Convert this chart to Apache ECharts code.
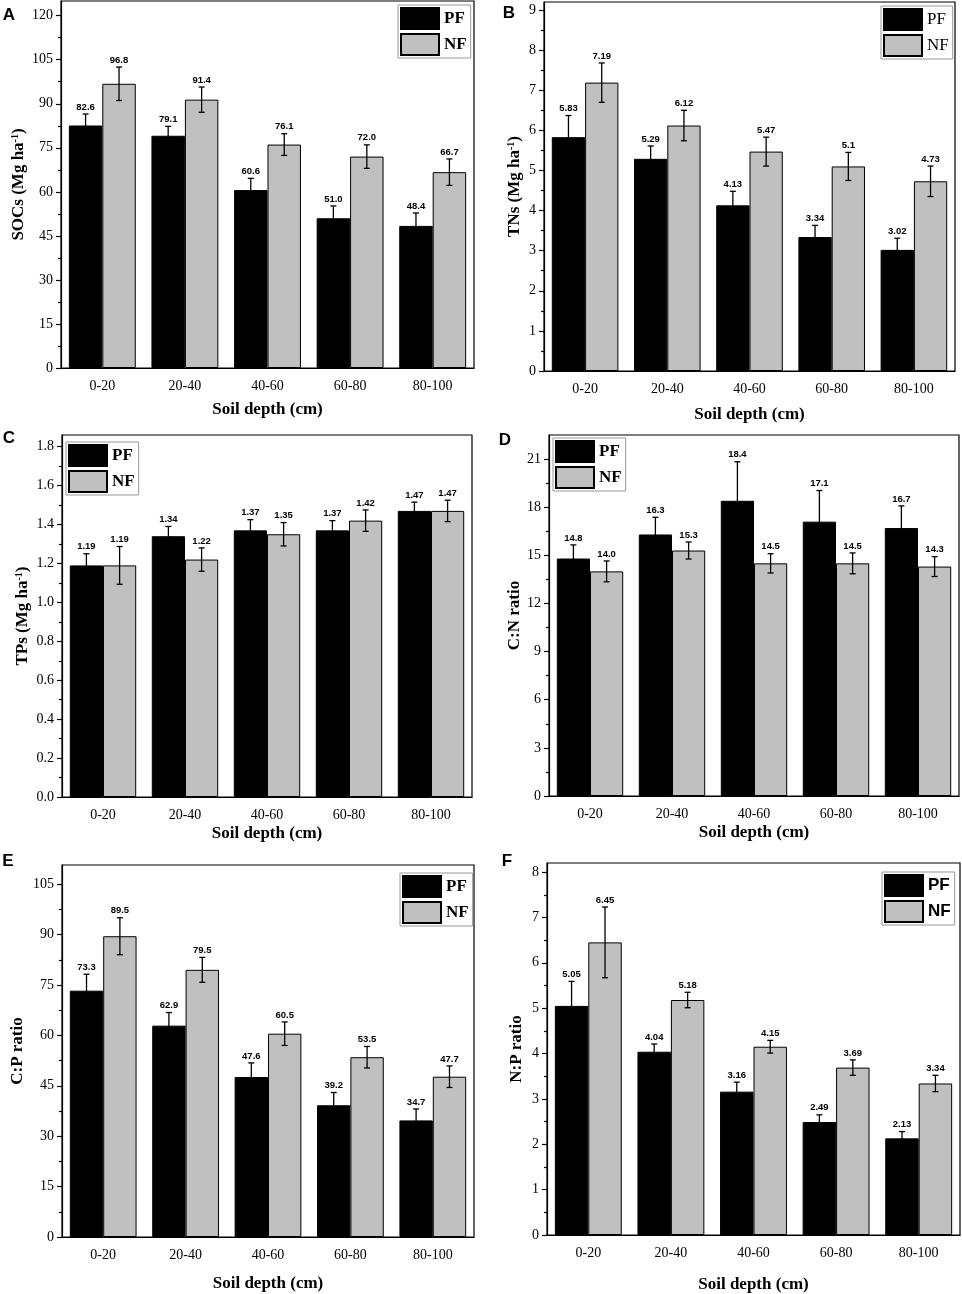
<!DOCTYPE html>
<html>
<head>
<meta charset="utf-8">
<script src="https://cdn.jsdelivr.net/npm/echarts@6.0.0/dist/echarts.min.js"></script>
<style>
html, body { margin: 0; padding: 0; background: #fff; }
#main { width: 962px; height: 1294px; }
</style>
</head>
<body>
<div id="main"></div>
<script>
// soil depth classes
var depths = ['0-20', '20-40', '40-60', '60-80', '80-100'];

// A: SOC stock
var socPF = [82.6, 79.1, 60.6, 51.0, 48.4];
var socNF = [96.8, 91.4, 76.1, 72.0, 66.7];
var socPFErr = [3.9, 3.2, 4.0, 4.2, 4.4];
var socNFErr = [5.7, 4.3, 3.7, 4.0, 4.5];
var socTicks = [0, 15, 30, 45, 60, 75, 90, 105, 120];

// B: TN stock
var tnPF = [5.83, 5.29, 4.13, 3.34, 3.02];
var tnNF = [7.19, 6.12, 5.47, 5.1, 4.73];
var tnPFErr = [0.54, 0.32, 0.35, 0.29, 0.29];
var tnNFErr = [0.49, 0.38, 0.36, 0.35, 0.38];
var tnTicks = [0, 1, 2, 3, 4, 5, 6, 7, 8, 9];

// C: TP stock
var tpPF = [1.19, 1.34, 1.37, 1.37, 1.47];
var tpNF = [1.19, 1.22, 1.35, 1.42, 1.47];
var tpPFErr = [0.06, 0.05, 0.055, 0.05, 0.045];
var tpNFErr = [0.097, 0.06, 0.06, 0.055, 0.055];
var tpTicks = [0, 0.2, 0.4, 0.6, 0.8, 1.0, 1.2, 1.4, 1.6, 1.8];

// D: C:N ratio
var cnPF = [14.8, 16.3, 18.4, 17.1, 16.7];
var cnNF = [14.0, 15.3, 14.5, 14.5, 14.3];
var cnPFErr = [0.85, 1.07, 2.43, 1.94, 1.38];
var cnNFErr = [0.65, 0.53, 0.6, 0.65, 0.62];
var cnTicks = [0, 3, 6, 9, 12, 15, 18, 21];

// E: C:P ratio
var cpPF = [73.3, 62.9, 47.6, 39.2, 34.7];
var cpNF = [89.5, 79.5, 60.5, 53.5, 47.7];
var cpPFErr = [4.9, 3.9, 4.2, 3.8, 3.4];
var cpNFErr = [5.5, 3.7, 3.5, 3.2, 3.2];
var cpTicks = [0, 15, 30, 45, 60, 75, 90, 105];

// F: N:P ratio
var npPF = [5.05, 4.04, 3.16, 2.49, 2.13];
var npNF = [6.45, 5.18, 4.15, 3.69, 3.34];
var npPFErr = [0.54, 0.17, 0.21, 0.16, 0.15];
var npNFErr = [0.78, 0.17, 0.14, 0.17, 0.18];
var npTicks = [0, 1, 2, 3, 4, 5, 6, 7, 8];

var SERIF = '"Liberation Serif", "Times New Roman", serif';
var SANS = '"Liberation Sans", Arial, sans-serif';
var GAP = 0.19; // barCategoryGap

// layout of the six panels
var panels = [
    {key: 'A', pf: socPF, nf: socNF, pfErr: socPFErr, nfErr: socNFErr, ticks: socTicks, max: 125, dec: 1, tickDec: 0,
     yName: 'SOCs (Mg ha{sup|-1})', box: [61, 1, 413, 367], legend: [398, 5], legendFont: SERIF, legendWeight: 'bold',
     letter: [9, 15], yGap: 34, xGap: 33},
    {key: 'B', pf: tnPF, nf: tnNF, pfErr: tnPFErr, nfErr: tnNFErr, ticks: tnTicks, max: 9.2, dec: null, tickDec: 0,
     yName: 'TNs (Mg ha{sup|-1})', box: [544, 2, 411, 369], legend: [881, 6], legendFont: SERIF, legendWeight: 'normal',
     letter: [509, 13], yGap: 21, xGap: 35},
    {key: 'C', pf: tpPF, nf: tpNF, pfErr: tpPFErr, nfErr: tpNFErr, ticks: tpTicks, max: 1.86, dec: 2, tickDec: 1,
     yName: 'TPs (Mg ha{sup|-1})', box: [62, 435, 410, 362], legend: [66, 442], legendFont: SERIF, legendWeight: 'bold',
     letter: [9, 438], yGap: 31, xGap: 28},
    {key: 'D', pf: cnPF, nf: cnNF, pfErr: cnPFErr, nfErr: cnNFErr, ticks: cnTicks, max: 22.5, dec: 1, tickDec: 0,
     yName: 'C:N ratio', box: [549, 435, 410, 361], legend: [553, 438], legendFont: SERIF, legendWeight: 'bold',
     letter: [505, 440], yGap: 26, xGap: 28},
    {key: 'E', pf: cpPF, nf: cpNF, pfErr: cpPFErr, nfErr: cpNFErr, ticks: cpTicks, max: 110.7, dec: 1, tickDec: 0,
     yName: 'C:P ratio', box: [62, 865, 412, 372], legend: [400, 873], legendFont: SERIF, legendWeight: 'bold',
     letter: [8, 861], yGap: 36, xGap: 38},
    {key: 'F', pf: npPF, nf: npNF, pfErr: npPFErr, nfErr: npNFErr, ticks: npTicks, max: 8.2, dec: 2, tickDec: 0,
     yName: 'N:P ratio', box: [547, 863, 413, 372], legend: [882, 872], legendFont: SANS, legendWeight: 'bold',
     letter: [507, 861], yGap: 22, xGap: 41}
];

function fmt(v, dec) {
    return dec === null ? String(v) : v.toFixed(dec);
}

// error bar + value label drawn over each bar
function errorBar(side, vals, dec) {
    return function (params, api) {
        var idx = api.value(0), val = api.value(1), err = api.value(2);
        var band = api.size([1, 0])[0];
        var bw = band * (1 - GAP) / 2;
        var x = api.coord([idx, val])[0] + side * bw / 2;
        var yTop = api.coord([idx, val + err])[1];
        var yBot = api.coord([idx, val - err])[1];
        var st = {stroke: '#000', lineWidth: 1.3};
        var cap = 3;
        return {
            type: 'group',
            children: [
                {type: 'line', shape: {x1: x, y1: yTop, x2: x, y2: yBot}, style: st},
                {type: 'line', shape: {x1: x - cap, y1: yTop, x2: x + cap, y2: yTop}, style: st},
                {type: 'line', shape: {x1: x - cap, y1: yBot, x2: x + cap, y2: yBot}, style: st},
                {type: 'text', x: x, y: yTop - 2, style: {
                    text: fmt(vals[params.dataIndex], dec), fill: '#000',
                    font: 'bold 9.5px ' + SANS, align: 'center', verticalAlign: 'bottom'}}
            ]
        };
    };
}

var option = {
    backgroundColor: '#fff',
    animation: false,
    grid: [], xAxis: [], yAxis: [], legend: [], series: [], graphic: []
};

panels.forEach(function (p, i) {
    var axisLine = {show: true, lineStyle: {color: '#000', width: 1.2}};
    var minor = [];
    var step = p.ticks[1] - p.ticks[0];
    for (var k = 1; k < p.ticks.length + 1; k++) {
        var m = p.ticks[0] + (k - 0.5) * step;
        if (m < p.max - 0.01 * step) minor.push(+m.toFixed(4));
    }

    option.grid.push({
        left: p.box[0], top: p.box[1], width: p.box[2], height: p.box[3],
        show: true, borderColor: '#000', borderWidth: 1.2
    });

    option.xAxis.push({
        type: 'category', gridIndex: i, position: 'bottom', data: depths,
        axisLine: axisLine,
        axisTick: {alignWithLabel: true, length: 6, lineStyle: {color: '#000', width: 1.2}},
        axisLabel: {color: '#000', fontFamily: SERIF, fontSize: 14, margin: 11},
        name: 'Soil depth (cm)', nameLocation: 'middle', nameGap: p.xGap,
        nameTextStyle: {color: '#000', fontFamily: SERIF, fontWeight: 'bold', fontSize: 17}
    });
    option.xAxis.push({
        type: 'category', gridIndex: i, position: 'bottom', data: depths,
        axisLine: {show: false}, axisLabel: {show: false},
        axisTick: {alignWithLabel: false, length: 3, lineStyle: {color: '#000', width: 1.2}}
    });

    option.yAxis.push({
        type: 'value', gridIndex: i, position: 'left', min: 0, max: p.max,
        axisLine: axisLine, splitLine: {show: false},
        axisTick: {show: true, length: 5, customValues: p.ticks, lineStyle: {color: '#000', width: 1.2}},
        axisLabel: {customValues: p.ticks, color: '#000', fontFamily: SERIF, fontSize: 14, margin: 8,
            formatter: function (v) { return v.toFixed(p.tickDec); }},
        name: p.yName, nameLocation: 'middle', nameGap: p.yGap,
        nameTextStyle: {color: '#000', fontFamily: SERIF, fontWeight: 'bold', fontSize: 17,
            rich: {sup: {fontFamily: SERIF, fontWeight: 'bold', fontSize: 10, verticalAlign: 'top', padding: [0, 0, 6, 0]}}}
    });
    option.yAxis.push({
        type: 'value', gridIndex: i, position: 'left', min: 0, max: p.max,
        axisLine: {show: false}, splitLine: {show: false}, axisLabel: {show: false},
        axisTick: {show: true, length: 3, customValues: minor, lineStyle: {color: '#000', width: 1.2}}
    });

    option.legend.push({
        data: ['PF', 'NF'], orient: 'vertical', left: p.legend[0], top: p.legend[1],
        icon: 'rect', itemWidth: 38, itemHeight: 21, itemGap: 3, padding: [2, 4, 2, 2],
        borderColor: '#999', borderWidth: 1, selectedMode: false,
        textStyle: {color: '#000', fontFamily: p.legendFont, fontWeight: p.legendWeight, fontSize: 17}
    });

    option.series.push({
        name: 'PF', type: 'bar', xAxisIndex: 2 * i, yAxisIndex: 2 * i, data: p.pf,
        barGap: '0%', barCategoryGap: (GAP * 100) + '%',
        itemStyle: {color: '#000', borderColor: '#000', borderWidth: 1}
    });
    option.series.push({
        name: 'NF', type: 'bar', xAxisIndex: 2 * i, yAxisIndex: 2 * i, data: p.nf,
        barGap: '0%', barCategoryGap: (GAP * 100) + '%',
        itemStyle: {color: '#c0c0c0', borderColor: '#000', borderWidth: 1}
    });
    option.series.push({
        type: 'custom', xAxisIndex: 2 * i, yAxisIndex: 2 * i, z: 5,
        data: p.pf.map(function (v, j) { return [j, v, p.pfErr[j]]; }),
        encode: {x: 0, y: 1},
        renderItem: errorBar(-1, p.pf, p.dec)
    });
    option.series.push({
        type: 'custom', xAxisIndex: 2 * i, yAxisIndex: 2 * i, z: 5,
        data: p.nf.map(function (v, j) { return [j, v, p.nfErr[j]]; }),
        encode: {x: 0, y: 1},
        renderItem: errorBar(1, p.nf, p.dec)
    });

    option.graphic.push({
        type: 'text', x: p.letter[0], y: p.letter[1],
        style: {text: p.key, font: 'bold 17px ' + SANS, fill: '#000', align: 'center', verticalAlign: 'middle'}
    });
});

var myChart = echarts.init(document.getElementById('main'));
myChart.setOption(option);
</script>
</body>
</html>
